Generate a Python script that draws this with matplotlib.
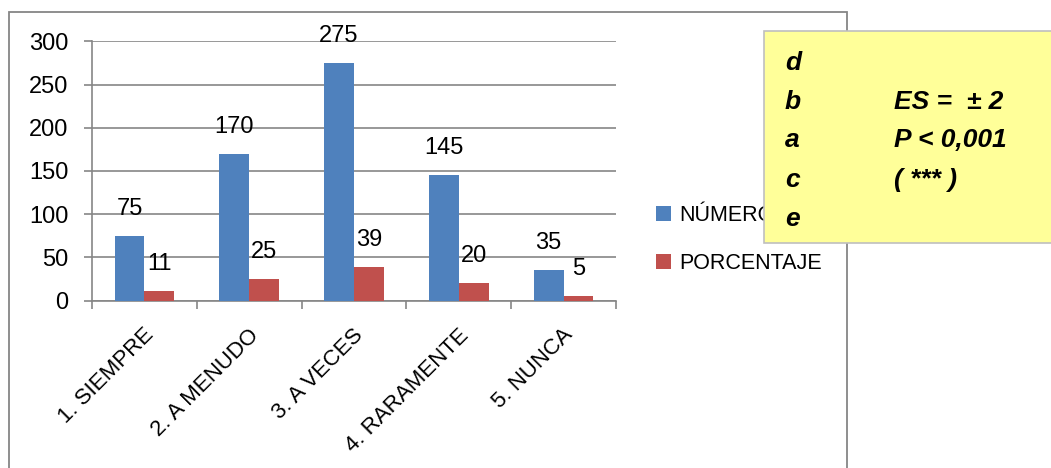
import matplotlib
matplotlib.use("Agg")
import matplotlib.pyplot as plt
import matplotlib.transforms as mtransforms
from matplotlib.patches import Rectangle, Patch
import numpy as np

# Chart data
categories = ["1. SIEMPRE", "2. A MENUDO", "3. A VECES", "4. RARAMENTE", "5. NUNCA"]
numero = [75, 170, 275, 145, 35]
porcentaje = [11, 25, 39, 20, 5]
series_names = ["NÚMERO", "PORCENTAJE"]
y_ticks = [0, 50, 100, 150, 200, 250, 300]

box_left = ["d", "b", "a", "c", "e"]
box_right = ["", "ES =  \u00b1 2", "P < 0,001", "( *** )", ""]

BLUE = "#4F81BD"
RED = "#C0504D"
GREY = "#868686"

plt.rcParams["font.family"] = ["Liberation Sans", "DejaVu Sans"]
FS_NUM = 17
FS_CAT = 16
FS_LEG = 15.5
FS_BOX = 19

W, H = 1051, 468
fig = plt.figure(figsize=(W / 100, H / 100), dpi=100)

# outer chart frame
fig.patches.append(Rectangle((9 / W, -0.1), (847 - 9) / W, 1.1 - 12 / H,
                             transform=fig.transFigure, fill=False,
                             edgecolor=GREY, linewidth=1.3, zorder=0))

ax = fig.add_axes([92 / W, 1 - 300.7 / H, (616 - 92) / W, (300.7 - 41.3) / H])
x = np.arange(len(categories))
bw = 0.285
b1 = ax.bar(x - bw / 2, numero, bw, color=BLUE, zorder=3)
b2 = ax.bar(x + bw / 2, porcentaje, bw, color=RED, zorder=3)

for bars, vals in ((b1, numero), (b2, porcentaje)):
    for rect, v in zip(bars, vals):
        ax.annotate(str(v), (rect.get_x() + rect.get_width() / 2, v),
                    xytext=(0, 19.5), textcoords="offset points",
                    ha="center", va="center", fontsize=FS_NUM)

ax.set_xlim(-0.5, len(categories) - 0.5)
ax.set_ylim(0, 300)
ax.set_yticks(y_ticks)
ax.set_yticklabels([str(t) for t in y_ticks], fontsize=FS_NUM)
ax.yaxis.grid(True, color=GREY, linewidth=1.2, zorder=0)
ax.set_axisbelow(True)

ax.set_xticks(np.arange(len(categories) + 1) - 0.5)
ax.set_xticklabels([])
ax.tick_params(axis="x", length=6, color=GREY, width=1.2)
ax.tick_params(axis="y", length=6, color=GREY, width=1.2, pad=11)
for s in ("top", "right"):
    ax.spines[s].set_visible(False)
for s in ("left", "bottom"):
    ax.spines[s].set_color(GREY)
    ax.spines[s].set_linewidth(1.2)

# rotated category labels
offset = mtransforms.ScaledTranslation(-1 / 100, -24 / 100, fig.dpi_scale_trans)
for i, c in enumerate(categories):
    ax.text(i, 0, c, transform=ax.get_xaxis_transform() + offset,
            rotation=45, ha="right", va="top", rotation_mode="anchor",
            fontsize=FS_CAT)

handles = [Patch(facecolor=BLUE), Patch(facecolor=RED)]
leg = fig.legend(handles, series_names, loc="upper left",
                 bbox_to_anchor=(656 / W, 1 - 205 / H), frameon=False,
                 fontsize=FS_LEG, handlelength=0.7, handleheight=0.7,
                 handletextpad=0.4, labelspacing=1.25, borderpad=0,
                 borderaxespad=0)
leg.set_zorder(5)

# yellow annotation box
fig.patches.append(Rectangle((764 / W, 1 - 243 / H), 0.4, (243 - 31) / H,
                             transform=fig.transFigure, facecolor="#FFFF99",
                             edgecolor="#BFBFBF", linewidth=1.2, zorder=6))
line_y = [63, 102, 140, 180, 219]
for yy, l, r in zip(line_y, box_left, box_right):
    fig.text(785 / W, 1 - yy / H, l, fontsize=FS_BOX, fontweight="bold",
             fontstyle="italic", va="center", ha="left", zorder=7)
    if r:
        fig.text(894 / W, 1 - yy / H, r, fontsize=FS_BOX, fontweight="bold",
                 fontstyle="italic", va="center", ha="left", zorder=7)

fig.savefig("out.png", dpi=100, facecolor="white")
